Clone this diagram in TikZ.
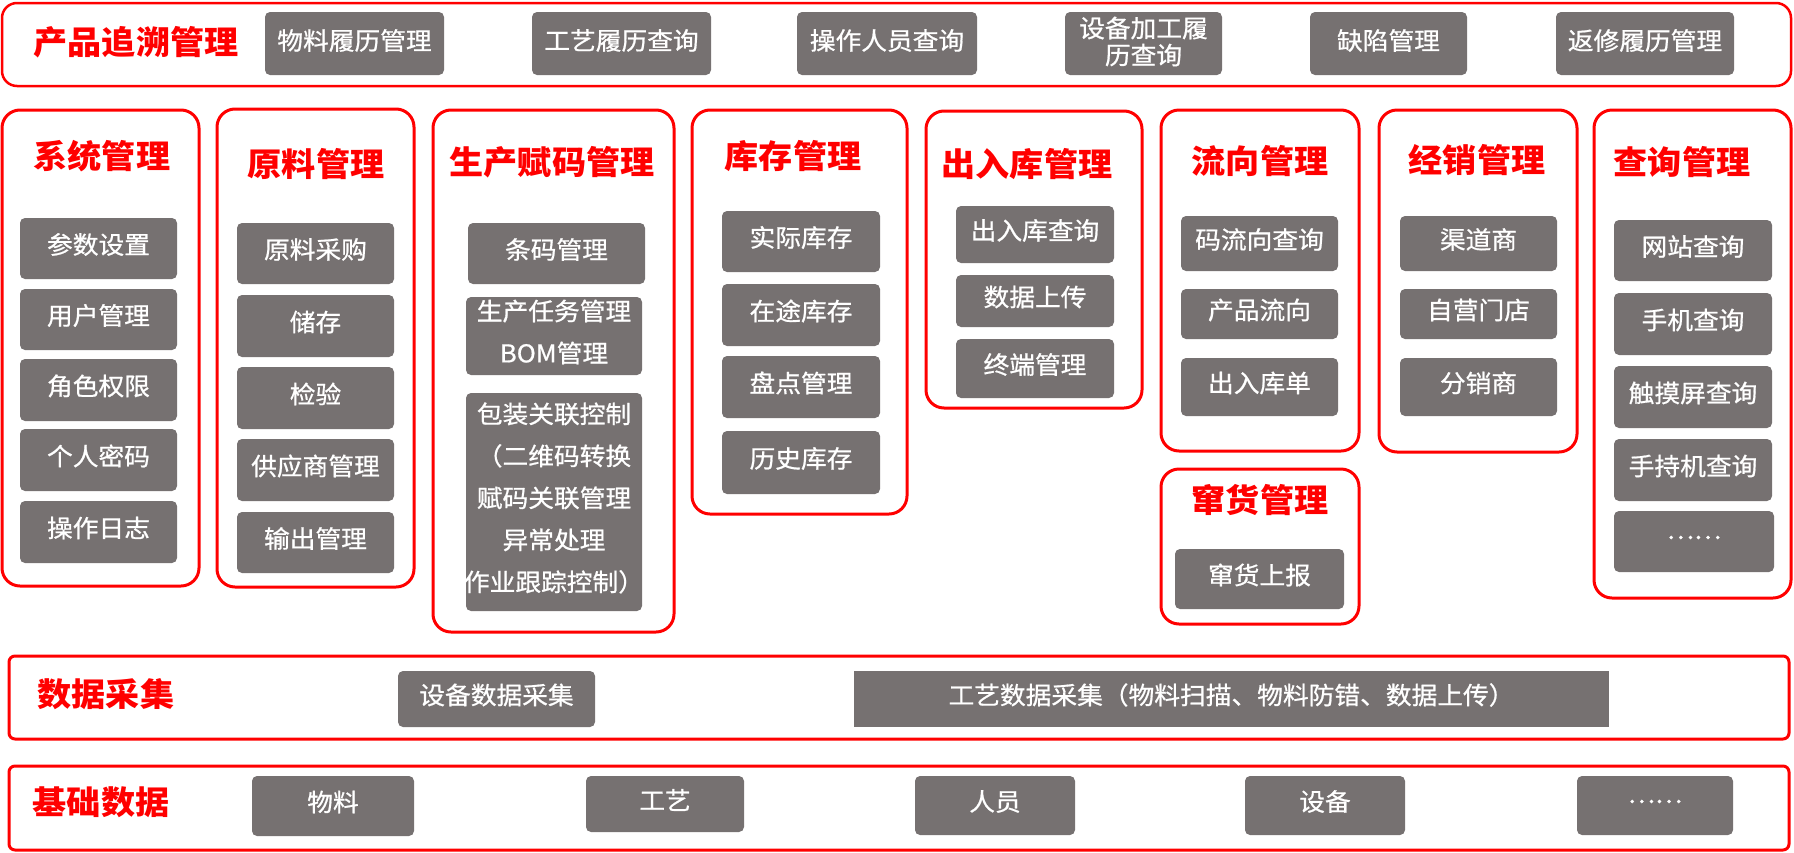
\documentclass[tikz,border=0pt]{standalone}
\usepackage{fontspec}
\setmainfont{Noto Sans CJK SC}[FakeStretch=1.05]
\newfontfamily\itemfont{Noto Sans CJK SC}[FakeStretch=1.05,FakeBold=0.8]
\definecolor{gbox}{HTML}{767171}
\definecolor{fred}{HTML}{FF0000}
\tikzset{
 item/.style={fill=gbox, rounded corners=5pt, inner sep=0pt, outer sep=0pt},
 sqitem/.style={item, rounded corners=0pt},
 itemtext/.style={text=white, font=\itemfont\fontsize{24.5}{29}\selectfont, align=center, inner sep=0pt, yshift=4pt},
 frame/.style={draw=fred, line width=3pt, rounded corners=18pt, inner sep=0pt, outer sep=0pt},
 band/.style={frame, rounded corners=6pt},
 topband/.style={frame, line width=2.5pt, rounded corners=15pt},
 title/.style={text=fred, font=\fontsize{32.5}{38}\selectfont\bfseries, inner sep=0pt},
}
% box node with its text node
\newcommand\bx[8][item]{\node[#1, minimum width={#5-#3}, minimum height={#6-#4}] (#2) at ({(#3+#5)/2},{(#4+#6)/2}) {};
 \node[itemtext,#7] (#2-t) at (#2.center) {#8};}
% frame node
\newcommand\fr[6][frame]{\node[#1, minimum width={#5-#3}, minimum height={#6-#4}] (#2) at ({(#3+#5)/2},{(#4+#6)/2}) {};}
\begin{document}
\begin{tikzpicture}[x=1pt,y=-1pt]
\useasboundingbox (0,0) rectangle (1794,852);
% top band
\fr[topband]{trace}{2}{3}{1791}{86}
\node[title] (tracet) at (136,42) {产品追溯管理};
\bx{t1}{265}{12}{444}{75}{yshift=-1pt}{物料履历管理}
\bx{t2}{532}{12}{711}{75}{yshift=-1pt}{工艺履历查询}
\bx{t3}{797}{12}{977}{75}{yshift=-1pt}{操作人员查询}
\bx{t4}{1065}{12}{1222}{75}{yshift=-2pt,font=\itemfont\fontsize{24.5}{27}\selectfont}{设备加工履\\历查询}
\bx{t5}{1310}{12}{1467}{75}{yshift=-1pt}{缺陷管理}
\bx{t6}{1556}{12}{1734}{75}{yshift=-1pt}{返修履历管理}
% column 1
\fr{c1}{2}{110}{199}{586}
\node[title] (c1t) at (102,156) {系统管理};
\bx{c1a}{20}{218}{177}{279}{}{参数设置}
\bx{c1b}{20}{289}{177}{350}{}{用户管理}
\bx{c1c}{20}{359}{177}{421}{}{角色权限}
\bx{c1d}{20}{429}{177}{491}{}{个人密码}
\bx{c1e}{20}{501}{177}{563}{}{操作日志}
% column 2
\fr{c2}{217}{109}{414}{587}
\node[title] (c2t) at (316,164) {原料管理};
\bx{c2a}{237}{223}{394}{284}{}{原料采购}
\bx{c2b}{237}{295}{394}{357}{}{储存}
\bx{c2c}{237}{367}{394}{429}{}{检验}
\bx{c2d}{237}{439}{394}{501}{}{供应商管理}
\bx{c2e}{237}{512}{394}{573}{}{输出管理}
% column 3
\fr{c3}{433}{110}{674}{632}
\node[title] (c3t) at (552,162) {生产赋码管理};
\bx{c3a}{468}{223}{645}{284}{}{条码管理}
\bx{c3b}{466}{297}{642}{375}{font=\itemfont\fontsize{24.5}{42}\selectfont}{生产任务管理\\BOM管理}
\bx{c3c}{466}{393}{642}{611}{font=\itemfont\fontsize{24.5}{42}\selectfont}{包装关联控制\\（二维码转换\\赋码关联管理\\异常处理\\作业跟踪控制）}
% column 4
\fr{c4}{692}{110}{907}{514}
\node[title] (c4t) at (793,156) {库存管理};
\bx{c4a}{722}{211}{880}{272}{}{实际库存}
\bx{c4b}{722}{284}{880}{346}{}{在途库存}
\bx{c4c}{722}{356}{880}{418}{}{盘点管理}
\bx{c4d}{722}{431}{880}{494}{}{历史库存}
% column 5
\fr{c5}{926}{111}{1142}{408}
\node[title] (c5t) at (1027,164) {出入库管理};
\bx{c5a}{956}{206}{1114}{263}{}{出入库查询}
\bx{c5b}{956}{275}{1114}{327}{}{数据上传}
\bx{c5c}{956}{339}{1114}{398}{}{终端管理}
% column 6
\fr{c6}{1161}{110}{1359}{451}
\node[title] (c6t) at (1260,161) {流向管理};
\bx{c6a}{1181}{216}{1338}{271}{}{码流向查询}
\bx{c6b}{1181}{289}{1338}{339}{}{产品流向}
\bx{c6c}{1181}{358}{1338}{416}{}{出入库单}
% column 7
\fr{c7}{1161}{469}{1359}{624}
\node[title] (c7t) at (1260,500) {窜货管理};
\bx{c7a}{1175}{549}{1344}{609}{}{窜货上报}
% column 8
\fr{c8}{1379}{110}{1577}{452}
\node[title] (c8t) at (1477,160) {经销管理};
\bx{c8a}{1400}{216}{1557}{271}{}{渠道商}
\bx{c8b}{1400}{289}{1557}{339}{}{自营门店}
\bx{c8c}{1400}{358}{1557}{416}{}{分销商}
% column 9
\fr{c9}{1594}{110}{1791}{598}
\node[title] (c9t) at (1682,162) {查询管理};
\bx{c9a}{1614}{220}{1772}{281}{}{网站查询}
\bx{c9b}{1614}{293}{1772}{355}{}{手机查询}
\bx{c9c}{1614}{366}{1772}{428}{}{触摸屏查询}
\bx{c9d}{1614}{439}{1772}{501}{}{手持机查询}
\bx{c9e}{1614}{511}{1774}{572}{}{……}
% data collection
\fr[band]{dc}{9}{656}{1789}{739}
\node[title] (dct) at (106,694) {数据采集};
\bx{dca}{398}{671}{595}{727}{}{设备数据采集}
\bx[sqitem]{dcb}{854}{671}{1609}{727}{}{工艺数据采集（物料扫描、物料防错、数据上传）}
% base data
\fr[band]{bd}{9}{766}{1789}{850}
\node[title] (bdt) at (101,802) {基础数据};
\bx{bda}{252}{776}{414}{836}{}{物料}
\bx{bdb}{586}{776}{744}{832}{}{工艺}
\bx{bdc}{915}{776}{1075}{835}{}{人员}
\bx{bdd}{1245}{776}{1405}{835}{}{设备}
\bx{bde}{1577}{776}{1733}{835}{}{……}
\end{tikzpicture}
\end{document}
